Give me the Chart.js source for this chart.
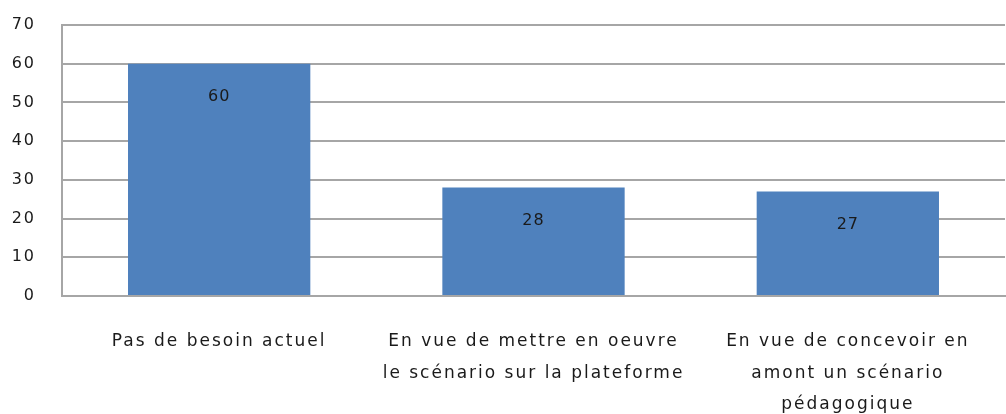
<!DOCTYPE html>
<html>
<head>
<meta charset="utf-8">
<script src="https://cdn.jsdelivr.net/npm/chart.js@4"></script>
<style>
  html, body { margin: 0; padding: 0; background: #fff; }
  #wrap { width: 1006px; height: 414px; }
</style>
</head>
<body>
<div id="wrap"><canvas id="chart_needs" width="1006" height="414"></canvas></div>
<script>
const categories = [
  ["Pas de besoin actuel"],
  ["En vue de mettre en oeuvre", "le scénario sur la plateforme"],
  ["En vue de concevoir en", "amont un scénario", "pédagogique"]
];
const counts = [60, 28, 27];
const yTicks = [0, 10, 20, 30, 40, 50, 60, 70];

// wider letter spacing for all axis text
const spacing = {
  id: "spacing",
  beforeDraw(chart) {
    chart.ctx.letterSpacing = "2px";
  }
};

// value written inside each bar, a little under its top
const barLabels = {
  id: "barLabels",
  afterDatasetsDraw(chart) {
    const ctx = chart.ctx;
    const meta = chart.getDatasetMeta(0);
    ctx.save();
    ctx.letterSpacing = "1px";
    ctx.font = "16px 'DejaVu Sans'";
    ctx.fillStyle = "#1a1a1a";
    ctx.textAlign = "center";
    ctx.textBaseline = "middle";
    meta.data.forEach((bar, i) => {
      ctx.fillText(String(counts[i]), bar.x, bar.y + 33);
    });
    ctx.restore();
  }
};

new Chart(document.getElementById("chart_needs"), {
  type: "bar",
  data: {
    labels: categories,
    datasets: [{
      data: counts,
      backgroundColor: "#4F81BD",
      borderWidth: 0,
      categoryPercentage: 1,
      barPercentage: 0.58
    }]
  },
  options: {
    responsive: false,
    animation: false,
    layout: { padding: { top: 25, right: 1, left: 0, bottom: 0 } },
    plugins: {
      legend: { display: false },
      tooltip: { enabled: false }
    },
    scales: {
      x: {
        grid: { display: false, drawTicks: false },
        border: { color: "#a6a6a6", width: 2 },
        ticks: {
          color: "#1a1a1a",
          font: { family: "DejaVu Sans", size: 17, lineHeight: 1.85 },
          padding: 30,
          maxRotation: 0,
          autoSkip: false
        },
        afterFit(scale) { scale.height = 118; }
      },
      y: {
        min: 0,
        max: 70,
        afterBuildTicks(scale) { scale.ticks = yTicks.map(v => ({ value: v })); },
        grid: { color: "#a6a6a6", lineWidth: 2, drawTicks: false },
        border: { color: "#a6a6a6", width: 2 },
        ticks: {
          color: "#1a1a1a",
          font: { family: "DejaVu Sans", size: 16 },
          padding: 26
        },
        afterFit(scale) {
          scale.width = 62;
          scale.paddingTop = 0;
          scale.paddingBottom = 0;
        }
      }
    }
  },
  plugins: [spacing, barLabels]
});
</script>
</body>
</html>
